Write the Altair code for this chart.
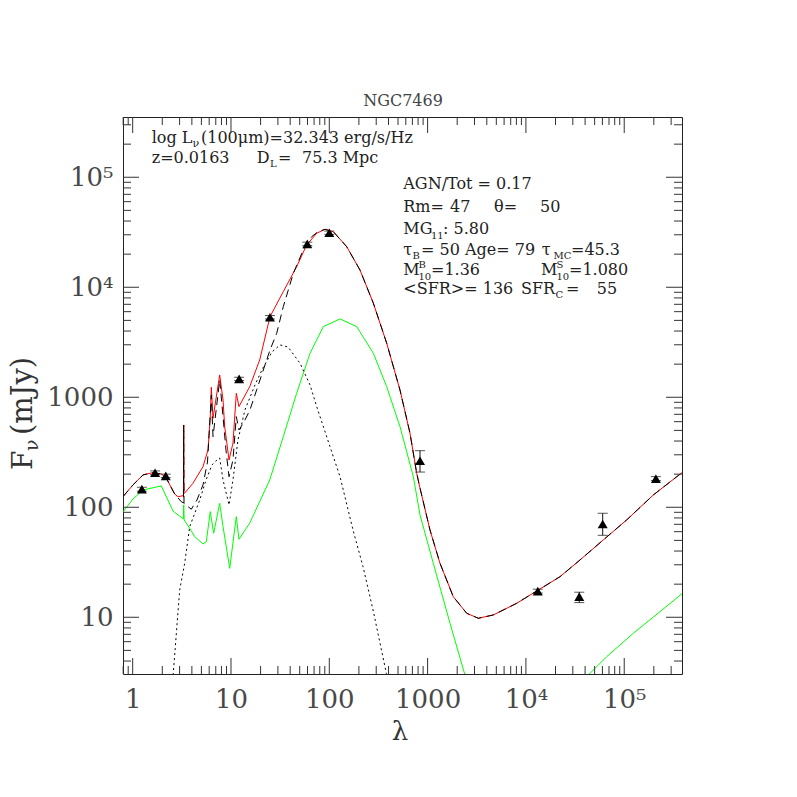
import altair as alt
import pandas as pd

# ---------------- data ----------------
# photometric points (wavelength in micron, flux in mJy)
phot_lambda = [1.24, 1.69, 2.17, 12.1, 24.9, 59.7, 100.0, 837.0, 1.32e4, 3.49e4, 6.04e4, 2.1e5]
phot_flux = [146, 206, 193, 1470, 5340, 24800, 31300, 265, 17.3, 15.4, 70.5, 182]
phot_lo = [140, 198, 186, 1420, 5150, 23900, 30200, 209, 16.6, 13.6, 55.6, 175]
phot_hi = [152, 214, 200, 1520, 5530, 25700, 32400, 327, 18.0, 16.9, 88.2, 190]

# model curves, stored as log10(lambda) and log10(flux)
red_loglam = [-0.099, 0.003, 0.105, 0.206, 0.291, 0.342, 0.427, 0.461, 0.512, 0.517, 0.519, 0.522, 0.527,
              0.613, 0.715, 0.766, 0.789, 0.800, 0.817, 0.885, 0.919, 0.936, 0.980, 1.020, 1.054, 1.081,
              1.190, 1.292, 1.397, 1.532, 1.668, 1.770, 1.872, 1.956, 2.041, 2.177, 2.312, 2.448, 2.584,
              2.719, 2.821, 2.889, 2.923, 3.024, 3.126, 3.261, 3.398, 3.516, 3.668, 3.906, 4.110, 4.347,
              4.550, 4.787, 5.025, 5.296, 5.588]
red_logf = [2.096, 2.203, 2.294, 2.315, 2.303, 2.264, 2.121, 2.096, 2.105, 2.11, 2.748, 2.13, 2.127,
            2.218, 2.369, 2.521, 2.82, 3.091, 2.809, 3.203, 2.975, 2.733, 2.430, 2.582, 3.036, 2.915,
            3.096, 3.339, 3.733, 3.960, 4.187, 4.385, 4.491, 4.527, 4.505, 4.369, 4.157, 3.855, 3.491,
            3.066, 2.673, 2.309, 2.173, 1.794, 1.491, 1.187, 1.036, 0.991, 1.021, 1.127, 1.239, 1.369,
            1.521, 1.703, 1.885, 2.112, 2.315]

dash_loglam = [-0.099, 0.003, 0.105, 0.206, 0.291, 0.342, 0.427, 0.494, 0.516, 0.519, 0.522, 0.596,
               0.654, 0.715, 0.761, 0.800, 0.817, 0.885, 0.919, 0.949, 0.980, 1.020, 1.054, 1.081,
               1.132, 1.193, 1.261, 1.397, 1.465, 1.532, 1.634, 1.735, 1.821, 1.885, 1.956, 2.041,
               2.177, 2.312, 2.448, 2.584, 2.719, 2.821, 2.889, 2.923, 3.024, 3.126, 3.261, 3.398,
               3.516, 3.668, 3.906, 4.110, 4.347, 4.550, 4.787, 5.025, 5.296, 5.588]
dash_logf = [2.096, 2.203, 2.294, 2.315, 2.303, 2.264, 2.121, 2.051, 2.04, 2.748, 2.035, 1.982,
             2.066, 2.203, 2.412, 3.021, 2.642, 3.157, 2.824, 2.521, 2.278, 2.430, 2.824, 2.703,
             2.775, 2.885, 3.067, 3.43, 3.582, 3.824, 4.127, 4.339, 4.46, 4.505, 4.527, 4.505,
             4.369, 4.157, 3.855, 3.491, 3.066, 2.673, 2.309, 2.173, 1.794, 1.491, 1.187, 1.036,
             0.991, 1.021, 1.127, 1.239, 1.369, 1.521, 1.703, 1.885, 2.112, 2.315]

dot_loglam = [0.400, 0.478, 0.529, 0.580, 0.682, 0.746, 0.807, 0.868, 0.885, 0.919, 0.980, 1.020,
              1.071, 1.142, 1.244, 1.325, 1.417, 1.498, 1.580, 1.702, 1.804, 1.872, 2.007, 2.109,
              2.241, 2.343, 2.445, 2.580, 2.607]
dot_logf = [0.339, 1.248, 1.491, 1.824, 2.066, 2.248, 2.385, 2.440, 2.448, 2.248, 2.021, 2.248,
            2.612, 2.885, 3.112, 3.267, 3.412, 3.476, 3.457, 3.309, 3.112, 2.915, 2.551, 2.278,
            1.794, 1.460, 1.066, 0.491, 0.339]

green_loglam = [-0.099, 0.003, 0.105, 0.291, 0.410, 0.515, 0.519, 0.524, 0.580, 0.631, 0.715, 0.749,
                0.789, 0.824, 0.885, 0.919, 0.987, 1.054, 1.081, 1.190, 1.394, 1.532, 1.668, 1.804,
                1.939, 2.109, 2.279, 2.448, 2.584, 2.719, 2.855, 2.923, 3.058, 3.228, 3.380, 3.411,
                4.62, 4.635, 4.822, 5.093, 5.364, 5.601]
green_logf = [1.957, 2.075, 2.157, 2.194, 1.966, 1.894, 2.021, 1.885, 1.809, 1.733, 1.666, 1.687,
              1.960, 1.764, 2.036, 1.824, 1.445, 1.915, 1.709, 1.855, 2.248, 2.642, 3.036, 3.4,
              3.642, 3.712, 3.642, 3.4, 3.096, 2.733, 2.278, 1.930, 1.491, 0.945, 0.475, 0.339,
              0.44, 0.475, 0.642, 0.855, 1.051, 1.224]

x_major = [1, 10, 100, 1000, 1e4, 1e5]
y_major = [10, 100, 1000, 1e4, 1e5]

# ---------------- layout ----------------
W, H = 559, 557
OX, OY = 123, 117          # page position of plot origin
FONT = "DejaVu Serif"
TXT = "#222222"

xscale = alt.Scale(type="log", domain=[0.797, 3.87e5], nice=False)
yscale = alt.Scale(type="log", domain=[3.05, 3.53e5], nice=False)

LABEL_EXPR = ("datum.value >= 1e5 ? '10\u2075' : datum.value >= 1e4 ? '10\u2074' : "
              "format(datum.value, 'd')")
XAX = alt.Axis(values=x_major, ticks=False, tickSize=0, domain=False, grid=False,
               labelFont=FONT, labelFontSize=26, labelColor="#484848", labelPadding=12,
               labelFlush=False, labelOverlap=False, title=None, labelExpr=LABEL_EXPR)
YAX = alt.Axis(values=y_major, ticks=False, tickSize=0, domain=False, grid=False,
               labelFont=FONT, labelFontSize=26, labelColor="#484848", labelPadding=10,
               labelFlush=False, labelOverlap=False, title=None, labelExpr=LABEL_EXPR)


def X(field):
    return alt.X(field, type="quantitative", scale=xscale, axis=XAX)


def Y(field):
    return alt.Y(field, type="quantitative", scale=yscale, axis=YAX)


def curve_df(loglam, logf):
    return pd.DataFrame({"lam": [10 ** v for v in loglam],
                         "f": [10 ** v for v in logf],
                         "i": list(range(len(loglam)))})


def curve(loglam, logf, color, dash=None):
    kw = dict(color=color, strokeWidth=1, clip=True)
    if dash:
        kw["strokeDash"] = dash
    return alt.Chart(curve_df(loglam, logf)).mark_line(**kw).encode(
        x=X("lam"), y=Y("f"), order="i:Q")


layers = []
layers.append(curve(green_loglam, green_logf, "#00ff00"))
layers.append(curve(dot_loglam, dot_logf, "#000000", dash=[2, 3]))
layers.append(curve(red_loglam, red_logf, "#ff0000"))
layers.append(curve(dash_loglam, dash_logf, "#000000", dash=[8, 5]))

# photometry
pdf = pd.DataFrame({"lam": phot_lambda, "f": phot_flux, "lo": phot_lo, "hi": phot_hi})
layers.append(alt.Chart(pdf).mark_rule(color="#111111", strokeWidth=1).encode(
    x=X("lam"), y=Y("lo"), y2="hi:Q"))
for col in ["lo", "hi"]:
    layers.append(alt.Chart(pdf).mark_tick(orient="horizontal", size=10, thickness=1, color="#111111").encode(
        x=X("lam"), y=Y(col)))
layers.append(alt.Chart(pdf).mark_point(shape="triangle-up", filled=True, color="black", size=100, opacity=1).encode(
    x=X("lam"), y=Y("f")))

# ticks on all four sides, drawn inward
x_minor = [k * 10 ** d for d in range(-1, 6) for k in range(2, 10) if 0.797 <= k * 10 ** d <= 3.87e5]
y_minor = [k * 10 ** d for d in range(0, 6) for k in range(2, 10) if 3.05 <= k * 10 ** d <= 3.53e5]
TC = "#333333"
for vals, ln in [(x_major, 16), (x_minor, 8)]:
    d = pd.DataFrame({"lam": vals})
    layers.append(alt.Chart(d).mark_rule(color=TC, strokeWidth=1).encode(
        x=X("lam"), y=alt.value(H), y2=alt.value(H - ln)))
    layers.append(alt.Chart(d).mark_rule(color=TC, strokeWidth=1).encode(
        x=X("lam"), y=alt.value(0), y2=alt.value(ln)))
for vals, ln in [(y_major, 16), (y_minor, 8)]:
    d = pd.DataFrame({"f": vals})
    layers.append(alt.Chart(d).mark_rule(color=TC, strokeWidth=1).encode(
        y=Y("f"), x=alt.value(0), x2=alt.value(ln)))
    layers.append(alt.Chart(d).mark_rule(color=TC, strokeWidth=1).encode(
        y=Y("f"), x=alt.value(W - ln), x2=alt.value(W)))


# ---------------- text ----------------
def txt(s, x, y, size=16, angle=0, align="left", color=TXT):
    return alt.Chart(pd.DataFrame({"t": [s]})).mark_text(
        align=align, baseline="alphabetic", fontSize=size, font=FONT, color=color, angle=angle
    ).encode(text="t:N", x=alt.value(x - OX), y=alt.value(y - OY))


texts = [
    # (text, page x, page baseline y, size)
    ("log L", 151.7, 143, 16), ("\u03bd", 192.5, 146.5, 11), ("(100\u03bcm)=32.343 erg/s/Hz", 201, 143, 16),
    ("z=0.0163", 151.7, 163, 16), ("D", 256.7, 163, 16), ("L", 270, 166.5, 10), ("=", 278, 163, 16),
    ("75.3 Mpc", 302, 163, 16),
    ("AGN/Tot = 0.17", 403.3, 189, 16),
    ("Rm=", 403.3, 212, 16), ("47", 450, 212, 16), ("\u03b8=", 494, 212, 16), ("50", 540, 212, 16),
    ("MG", 403.3, 234, 16), ("11", 431, 238.5, 10), (": 5.80", 443, 234, 16),
    ("\u03c4", 403.3, 255, 16), ("B", 412.5, 258.5, 10), ("= 50", 421, 255, 16), ("Age= 79", 465, 255, 16),
    ("\u03c4", 541.7, 255, 16), ("MC", 553.5, 258.5, 10), ("=45.3", 571, 255, 16),
    ("M", 403.3, 275, 16), ("B", 418.5, 268, 10), ("10", 418.5, 279.5, 10), ("=1.36", 431, 275, 16),
    ("M", 541, 275, 16), ("S", 556.5, 268, 10), ("10", 556.5, 279.5, 10), ("=1.080", 569, 275, 16),
    ("<SFR>= 136", 403.3, 294, 16), ("SFR", 521, 294, 16), ("C", 555.5, 297.5, 10), ("=", 566, 294, 16),
    ("55", 596.7, 294, 16),
]
for s, x, y, sz in texts:
    layers.append(txt(s, x, y, sz))

layers.append(txt("NGC7469", 403, 106, 16, align="center", color="#444444"))
layers.append(txt("\u03bb", 400, 740, 26, align="center", color="#333333"))
layers.append(txt("F", 32, 470, 28, angle=270, color="#333333"))
layers.append(txt("\u03bd", 38, 451, 19, angle=270, color="#333333"))
layers.append(txt("(mJy)", 32, 435, 29, angle=270, color="#333333"))

chart = alt.layer(*layers).properties(
    width=W, height=H,
    autosize=alt.AutoSizeParams(type="none"),
    padding={"left": OX - 8, "top": OY - 8, "right": 100, "bottom": 100},
    background="white",
).configure_view(stroke="#222222", strokeWidth=1)

chart.save("out.html", embed_options={"renderer": "svg", "actions": False})
